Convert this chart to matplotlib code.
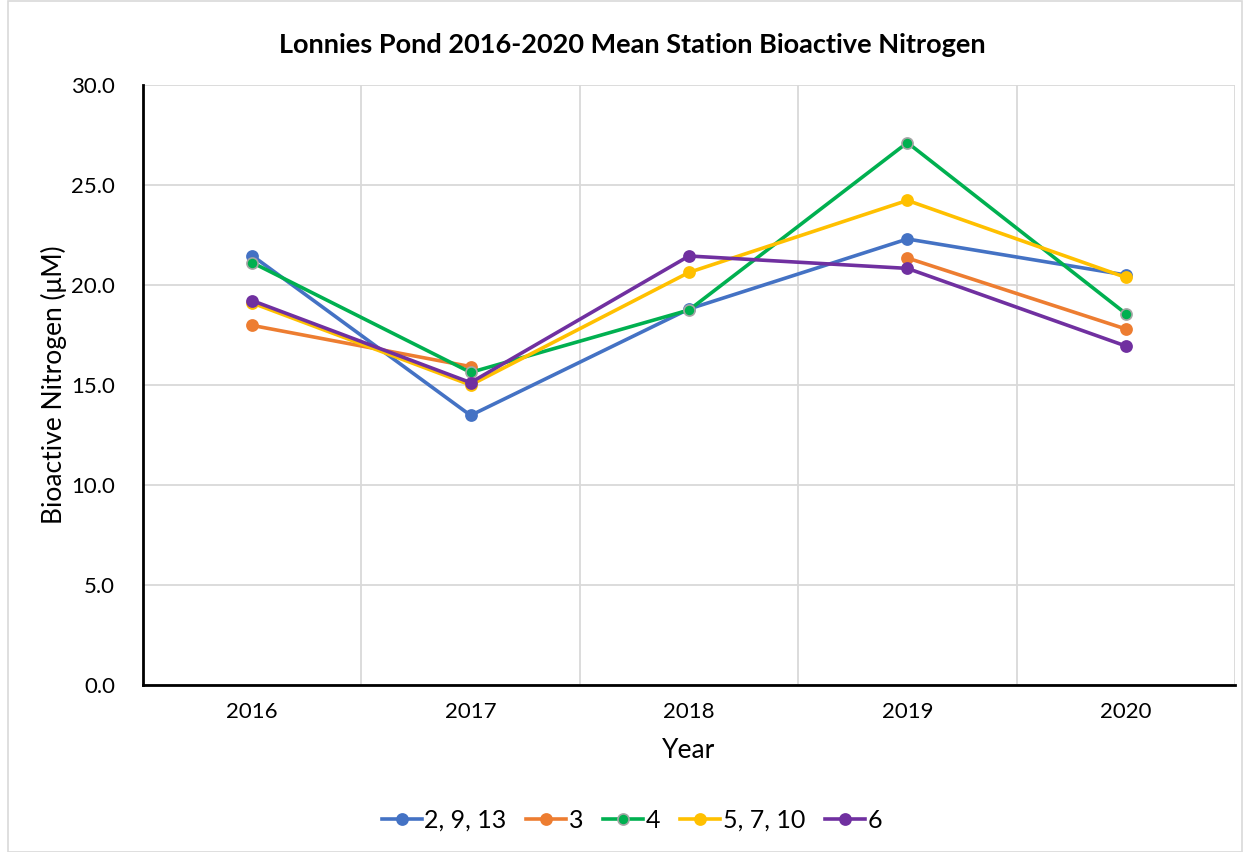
import matplotlib
matplotlib.use("Agg")
import matplotlib.pyplot as plt
from matplotlib.patches import Rectangle
import numpy as np

years = ["2016", "2017", "2018", "2019", "2020"]
series_names = ["2, 9, 13", "3", "4", "5, 7, 10", "6"]
s_2_9_13 = [21.47, 13.48, 18.8, 22.3, 20.5]
s_3 = [17.98, 15.92, np.nan, 21.35, 17.8]
s_4 = [21.12, 15.63, 18.75, 27.12, 18.57]
s_5_7_10 = [19.1, 15.0, 20.63, 24.23, 20.38]
s_6 = [19.22, 15.12, 21.45, 20.83, 16.95]
values = [s_2_9_13, s_3, s_4, s_5_7_10, s_6]
colors = ["#4472C4", "#ED7D31", "#00B050", "#FFC000", "#7030A0"]

plt.rcParams['font.family'] = ['Lato', 'DejaVu Sans']

fig = plt.figure(figsize=(12.5, 8.52), dpi=100)
ax = fig.add_axes([143/1250, 1-685/852, (1235-143)/1250, 600/852])

x = np.arange(len(years))
for name, vals, c in zip(series_names, values, colors):
    mec = "#A5A5A5" if name == "4" else c
    ax.plot(x, vals, color=c, lw=2.6, marker="o", ms=8, mfc=c, mec=mec, mew=1.2,
            label=name, zorder=3)

ax.set_xlim(-0.5, len(years) - 0.5)
ax.set_ylim(0, 30)
yt = [0, 5, 10, 15, 20, 25, 30]
ax.set_yticks(yt)
ax.set_yticklabels([f"{v:.1f}" for v in yt], fontsize=16)
ax.set_xticks(x)
ax.set_xticklabels(years, fontsize=16)
ax.tick_params(length=0, pad=12)
ax.tick_params(axis='y', pad=20)
ax.grid(axis='y', color="#D9D9D9", lw=1.3)
for b in [0.5, 1.5, 2.5, 3.5, 4.5]:
    ax.axvline(b, color="#D9D9D9", lw=1.3, zorder=0)
ax.set_axisbelow(True)
for s in ["top", "right"]:
    ax.spines[s].set_visible(False)
ax.spines["left"].set_linewidth(2)
ax.spines["bottom"].set_linewidth(2)

ax.set_xlabel("Year", fontsize=19, labelpad=12)
ax.set_ylabel("Bioactive Nitrogen (\u03bcM)", fontsize=19, labelpad=3)
fig.text(632/1250, 1-45/852, "Lonnies Pond 2016-2020 Mean Station Bioactive Nitrogen",
         ha="center", va="center", fontsize=19.5, fontweight="bold")

fig.legend(loc="center", bbox_to_anchor=(632/1250, 1-820/852), ncol=5, frameon=False,
           fontsize=18, handlelength=1.6, columnspacing=0.8, handletextpad=0.1)

fig.patches.append(Rectangle((8/1250, 0.5/852), 1-16/1250, 1-1/852, transform=fig.transFigure,
                             fill=False, edgecolor="#D9D9D9", lw=1.2))

fig.savefig("out.png", dpi=100)
